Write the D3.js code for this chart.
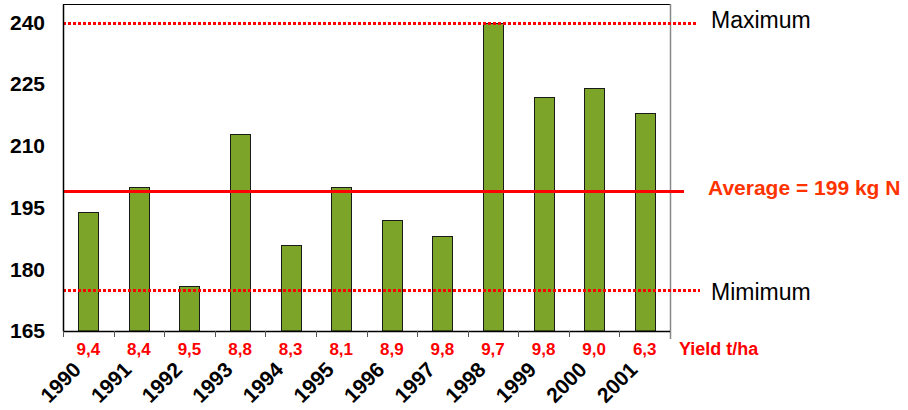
<!DOCTYPE html>
<html>
<head>
<meta charset="utf-8">
<script src="https://cdn.jsdelivr.net/npm/d3@7"></script>
<style>
  html, body { margin: 0; padding: 0; background: #fff; }
  svg { display: block; font-family: "Liberation Sans", Arial, sans-serif; }
</style>
</head>
<body>
<svg id="chart" width="908" height="410"></svg>
<script>
// Nitrogen rate per year (kg N/ha) with grain yield per year
const years = ["1990", "1991", "1992", "1993", "1994", "1995", "1996", "1997", "1998", "1999", "2000", "2001"];
const nitrogen = [194, 200, 176, 213, 186, 200, 192, 188, 240, 222, 224, 218];
const yields = ["9,4", "8,4", "9,5", "8,8", "8,3", "8,1", "8,9", "9,8", "9,7", "9,8", "9,0", "6,3"];
const yTicks = [165, 180, 195, 210, 225, 240];
const refMax = 240;
const refMin = 175;
const refAverage = 199;

const svg = d3.select("#chart");
const plot = { left: 63, right: 670, top: 4, bottom: 331 };

const x = d3.scaleBand()
  .domain(years)
  .range([plot.left, plot.right])
  .padding(0);

const y = d3.scaleLinear()
  .domain([165, 244.5])
  .range([plot.bottom, plot.top]);

const bandCenter = d => x(d) + x.bandwidth() / 2;
const crisp = v => Math.round(v) + 0.5;

// frame: top and right edges
svg.append("line")
  .attr("x1", plot.left).attr("x2", plot.right)
  .attr("y1", plot.top + 0.5).attr("y2", plot.top + 0.5)
  .attr("stroke", "#000").attr("stroke-width", 1.2);
svg.append("line")
  .attr("x1", plot.right + 0.5).attr("x2", plot.right + 0.5)
  .attr("y1", plot.top).attr("y2", plot.bottom + 8)
  .attr("stroke", "#888").attr("stroke-width", 1.5);

// bars
const barW = 20;
svg.append("g").selectAll("rect")
  .data(nitrogen)
  .join("rect")
  .attr("x", (d, i) => Math.round(bandCenter(years[i]) - barW / 2) + 0.5)
  .attr("y", d => crisp(y(d)))
  .attr("width", barW)
  .attr("height", d => plot.bottom - crisp(y(d)))
  .attr("fill", "#7ba428")
  .attr("stroke", "#1a1a1a")
  .attr("stroke-width", 1);

// reference lines
svg.append("line")
  .attr("x1", plot.left).attr("x2", 696)
  .attr("y1", crisp(y(refMax))).attr("y2", crisp(y(refMax)))
  .attr("stroke", "#ff0000").attr("stroke-width", 3)
  .attr("stroke-dasharray", "3,2");
svg.append("line")
  .attr("x1", plot.left).attr("x2", 700)
  .attr("y1", crisp(y(refMin))).attr("y2", crisp(y(refMin)))
  .attr("stroke", "#ff0000").attr("stroke-width", 3)
  .attr("stroke-dasharray", "3,2");
svg.append("line")
  .attr("x1", plot.left).attr("x2", 684)
  .attr("y1", crisp(y(refAverage))).attr("y2", crisp(y(refAverage)))
  .attr("stroke", "#ff0000").attr("stroke-width", 3);

svg.append("text")
  .attr("x", 711).attr("y", y(refMax) - 3)
  .attr("dy", "0.35em")
  .attr("font-size", 23)
  .attr("fill", "#000")
  .text("Maximum");
svg.append("text")
  .attr("x", 711).attr("y", y(refMin) + 2)
  .attr("dy", "0.35em")
  .attr("font-size", 23)
  .attr("fill", "#000")
  .text("Mimimum");
svg.append("text")
  .attr("x", 708).attr("y", y(refAverage) - 4)
  .attr("dy", "0.35em")
  .attr("font-size", 21)
  .attr("font-weight", "bold")
  .attr("fill", "#ff3300")
  .text("Average = " + refAverage + " kg N");

// y axis
const yAxis = svg.append("g")
  .attr("transform", `translate(${plot.left},0)`)
  .call(d3.axisLeft(y).tickValues(yTicks).tickSize(0).tickPadding(18));
yAxis.select(".domain").attr("stroke", "#000").attr("stroke-width", 1.5);
yAxis.selectAll("text")
  .attr("font-family", "Liberation Sans, Arial, sans-serif")
  .attr("font-size", 21)
  .attr("font-weight", "bold")
  .attr("fill", "#000");

// x axis line with boundary ticks
svg.append("line")
  .attr("x1", plot.left).attr("x2", plot.right)
  .attr("y1", plot.bottom + 0.5).attr("y2", plot.bottom + 0.5)
  .attr("stroke", "#000").attr("stroke-width", 1.5);
svg.append("g").selectAll("line")
  .data(years)
  .join("line")
  .attr("x1", d => Math.round(x(d)) + 0.5).attr("x2", d => Math.round(x(d)) + 0.5)
  .attr("y1", plot.bottom).attr("y2", plot.bottom + 6)
  .attr("stroke", "#555").attr("stroke-width", 1);

// yield labels
svg.append("g").selectAll("text")
  .data(yields)
  .join("text")
  .attr("x", (d, i) => bandCenter(years[i]))
  .attr("y", 355)
  .attr("text-anchor", "middle")
  .attr("font-size", 17)
  .attr("font-weight", "bold")
  .attr("fill", "#ff0000")
  .text(d => d);
svg.append("text")
  .attr("x", 679).attr("y", 355)
  .attr("font-size", 18)
  .attr("font-weight", "bold")
  .attr("fill", "#ff0000")
  .text("Yield t/ha");

// year labels, rotated
svg.append("g").selectAll("text")
  .data(years)
  .join("text")
  .attr("transform", d => `translate(${bandCenter(d) - 6},${371}) rotate(-45)`)
  .attr("text-anchor", "end")
  .attr("font-size", 21)
  .attr("font-weight", "bold")
  .attr("fill", "#000")
  .text(d => d);
</script>
</body>
</html>
